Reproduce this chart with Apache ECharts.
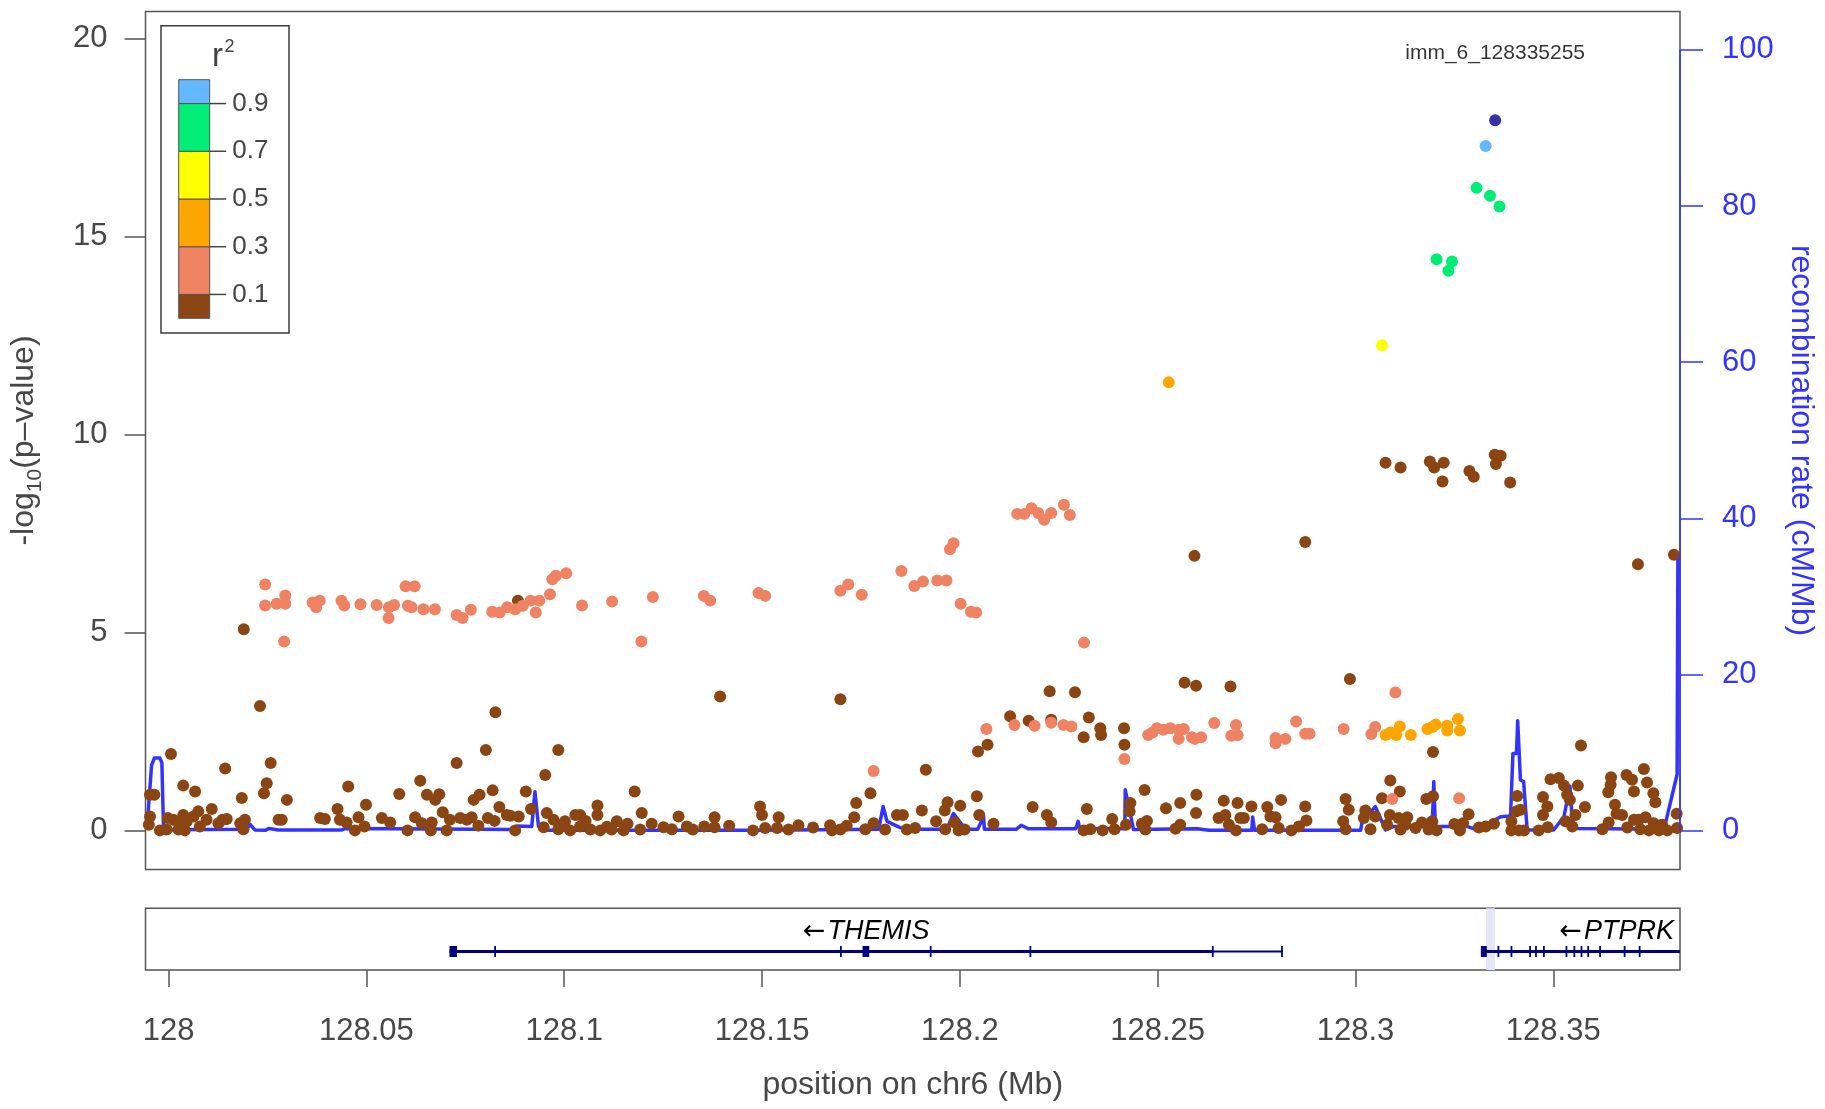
<!DOCTYPE html>
<html>
<head>
<meta charset="utf-8">
<script src="https://cdn.jsdelivr.net/npm/echarts@6/dist/echarts.min.js"></script>
<style>
html,body{margin:0;padding:0;background:#fff;}
#chart{width:1825px;height:1109px;}
</style>
</head>
<body>
<div id="chart"></div>
<script>
// ---------------- data ----------------
const leadSnpName = 'imm_6_128335255';
const leadSnp = [[128.3353, 17.94]];

// SNPs grouped by LD (r^2) with the lead SNP: [position (Mb), -log10 p]
const snpsR2lt01 = [
  [127.9953,0.91],[127.9964,0.91],[127.9953,0.36],[127.9950,0.15],[127.9978,0.01],[127.9998,0.32],[127.9995,0.03],
  [128.0006,1.94],[128.0012,0.28],[128.0025,0.03],[128.0029,0.24],[128.0037,0.40],[128.0037,1.14],[128.0041,0.01],
  [128.0046,0.24],[128.0067,0.99],[128.0063,0.36],[128.0075,0.49],[128.0079,0.11],[128.0096,0.28],[128.0109,0.55],
  [128.0126,0.19],[128.0136,0.28],[128.0147,0.30],[128.0143,1.57],[128.0185,0.83],[128.0181,0.19],[128.0193,0.28],
  [128.0189,0.04],[128.0190,5.09],[128.0231,3.15],[128.0248,1.20],[128.0258,1.71],[128.0241,0.95],[128.0278,0.28],
  [128.0286,0.28],[128.0299,0.78],[128.0383,0.32],[128.0395,0.30],[128.0427,0.55],[128.0433,0.28],[128.0450,0.21],
  [128.0454,1.12],[128.0471,0.01],[128.0480,0.34],[128.0495,0.11],[128.0499,0.66],[128.0539,0.32],[128.0560,0.21],
  [128.0583,0.93],[128.0604,0.01],[128.0623,0.34],[128.0636,1.26],[128.0640,0.19],[128.0653,0.91],[128.0665,0.21],
  [128.0663,0.01],[128.0674,0.78],[128.0684,0.92],[128.0693,0.47],[128.0703,0.01],[128.0711,0.28],[128.0728,1.71],
  [128.0737,0.32],[128.0754,0.28],[128.0766,0.34],[128.0771,0.78],[128.0786,0.91],[128.0783,0.13],[128.0802,2.04],
  [128.0807,0.32],[128.0819,1.02],[128.0826,2.99],[128.0824,0.25],[128.0836,0.60],[128.0855,0.40],[128.0864,0.38],
  [128.0876,0.01],[128.0883,5.81],[128.0885,0.36],[128.0903,0.99],[128.0916,0.55],
  [128.0952,1.41],[128.0985,2.04],[128.0956,0.45],[128.0948,0.09],[128.0973,0.28],[128.0985,0.04],[128.1002,0.24],
  [128.1015,0.01],[128.1028,0.40],[128.1040,0.40],[128.1040,0.11],[128.1066,0.03],[128.1084,0.64],[128.1084,0.40],
  [128.1091,0.01],[128.1120,0.03],[128.1133,0.24],[128.1150,0.01],[128.1178,0.99],[128.1196,0.45],[128.1192,0.03],
  [128.1221,0.18],[128.1251,0.09],[128.1272,0.04],[128.1289,0.36],[128.1310,0.11],[128.1325,0.03],[128.1354,0.11],
  [128.1380,0.34],[128.1380,0.09],[128.1394,3.39],[128.1417,0.13],[128.1477,0.01],[128.1495,0.61],[128.1500,0.40],
  [128.1508,0.07],[128.1538,0.07],[128.1542,0.34],[128.1567,0.03],[128.1592,0.14],[128.1629,0.08],[128.1672,0.14],
  [128.1677,0.01],[128.1698,3.32],[128.1698,0.03],[128.1714,0.13],[128.1733,0.34],[128.1738,0.70],[128.1774,0.95],
  [128.1782,0.19],[128.1761,0.04],[128.1811,0.03],[128.1841,0.40],[128.1856,0.40],[128.1866,0.03],
  [128.0995,0.15],[128.1054,0.25],[128.1108,0.10],[128.1160,0.18],
  [128.1887,0.07],[128.1904,0.51],[128.1914,1.54],[128.1940,0.24],[128.1962,0.51],[128.1969,0.72],[128.1963,0.04],
  [128.1987,0.21],[128.1997,0.01],[128.2001,0.63],[128.2012,0.03],[128.2043,0.87],[128.2049,0.40],[128.2046,2.00],
  [128.2070,2.17],[128.2085,0.18],[128.2127,2.89],[128.2174,2.78],[128.2184,0.60],[128.2220,0.40],[128.2231,0.21],
  [128.2227,3.52],[128.2231,2.80],[128.2291,3.50],[128.2313,2.36],[128.2321,0.55],[128.2313,0.01],[128.2326,2.86],
  [128.2330,0.04],[128.2355,2.59],[128.2357,2.42],[128.2361,0.01],[128.2385,0.30],[128.2391,0.04],[128.2415,2.59],
  [128.2416,2.17],[128.2420,0.15],[128.2431,0.70],[128.2429,0.49],[128.2460,0.18],[128.2469,0.03],[128.2467,1.03],
  [128.2473,0.25],[128.2521,0.57],[128.2545,0.05],[128.2557,0.15],[128.2557,0.70],[128.2568,3.74],[128.2597,3.66],
  [128.2598,0.91],[128.2597,0.45],[128.2654,0.32],[128.2667,0.76],[128.2671,0.40],[128.2684,3.64],[128.2680,0.15],
  [128.2698,0.01],[128.2702,0.70],[128.2709,0.32],[128.2718,0.32],[128.2737,0.61],[128.2764,0.04],[128.2777,0.60],
  [128.2785,0.36],[128.2798,0.34],[128.2806,0.07],[128.2812,0.78],[128.2838,0.01],[128.2857,0.11],[128.2873,0.61],
  [128.2876,0.26],[128.2975,0.80],[128.2983,0.53],[128.2969,0.24],[128.2975,0.04],[128.2986,3.83],[128.3021,0.32],
  [128.3025,0.51],[128.3038,0.04],[128.3050,0.36],[128.3067,0.82],[128.3088,1.27],[128.3087,0.40],[128.3080,0.15],
  [128.3112,0.99],[128.3114,0.03],[128.3109,0.32],[128.3131,0.34],[128.3126,0.15],[128.3152,0.07],[128.3168,0.21],
  [128.3179,0.80],[128.3196,0.87],[128.3196,1.99],[128.3185,0.03],[128.3194,0.24],[128.3205,0.01],[128.3250,0.17],
  [128.3264,0.01],[128.3272,0.19],[128.3286,0.42],[128.3312,0.08],[128.3329,0.11],[128.3350,0.18],[128.3394,0.24],
  [128.3394,0.01],[128.3409,0.88],[128.3407,0.49],[128.3417,0.53],[128.3413,0.01],[128.3426,0.01],[128.3463,0.01],
  [128.3474,0.85],[128.3485,0.61],[128.3474,0.40],[128.3486,0.09],[128.3493,1.30],[128.3514,1.33],[128.3527,1.14],
  [128.3535,0.91],[128.3542,0.78],[128.3562,1.14],[128.3570,2.15],[128.3531,0.24],[128.3548,0.11],[128.3556,0.40],
  [128.3580,0.60],[128.3624,0.04],[128.3640,0.21],[128.3639,0.97],[128.3645,1.16],[128.3646,1.35],[128.3656,0.66],
  [128.3660,0.43],[128.3674,0.40],[128.3685,1.41],[128.3699,1.29],[128.3704,0.99],[128.3687,0.08],[128.3704,0.28],
  [128.3720,0.04],[128.3729,1.56],[128.3737,1.22],[128.3753,0.95],[128.3758,0.72],[128.3733,0.34],[128.3742,0.01],
  [128.3754,0.19],[128.3767,0.01],[128.3775,0.15],[128.3788,0.01],[128.3812,0.43],[128.3813,0.07],[128.3716,0.28],
  [128.3076,9.29],[128.3114,9.17],[128.3188,9.32],[128.3199,9.17],[128.3223,9.29],[128.3220,8.82],[128.3288,9.08],
  [128.3299,8.94],[128.3352,9.49],[128.3367,9.47],[128.3355,9.26],[128.3391,8.79],[128.2873,7.29],[128.2593,6.94],
  [128.3805,6.97],[128.3714,6.73]
];

const snpsR2_01_03 = [
  [128.0244,6.22],[128.0244,5.69],[128.0273,5.73],[128.0295,5.94],[128.0295,5.73],[128.0292,4.78],[128.0364,5.76],
  [128.0373,5.64],[128.0382,5.81],[128.0437,5.81],[128.0444,5.69],[128.0485,5.72],[128.0526,5.70],[128.0557,5.64],
  [128.0556,5.37],[128.0570,5.70],[128.0599,6.17],[128.0622,6.17],[128.0605,5.68],[128.0614,5.64],[128.0644,5.59],
  [128.0673,5.59],[128.0728,5.45],[128.0743,5.37],[128.0764,5.58],[128.0818,5.53],[128.0837,5.51],[128.0856,5.64],
  [128.0876,5.59],[128.0895,5.68],[128.0915,5.81],[128.0928,5.51],[128.0937,5.81],[128.0964,5.97],[128.0970,6.35],
  [128.0979,6.44],[128.1005,6.50],[128.1045,5.69],[128.1121,5.79],[128.1195,4.78],[128.1224,5.90],[128.1353,5.93],
  [128.1369,5.81],[128.1491,6.00],[128.1508,5.93],[128.1698,6.06],[128.1718,6.22],[128.1752,5.96],[128.1852,6.56],
  [128.1885,6.18],[128.1907,6.29],[128.1943,6.32],[128.1966,6.32],[128.2002,5.73],[128.2028,5.53],[128.2041,5.51],
  [128.1975,7.11],[128.1984,7.26],[128.2145,8.00],[128.2163,8.00],[128.2181,8.14],[128.2198,8.02],[128.2213,7.85],
  [128.2231,8.02],[128.2263,8.23],[128.2278,7.97],[128.2314,4.75],[128.1782,1.51],
  [128.2067,2.57],[128.2138,2.67],[128.2189,2.65],[128.2231,2.73],[128.2262,2.67],[128.2282,2.63],[128.2416,1.81],
  [128.2476,2.42],[128.2487,2.48],[128.2498,2.59],[128.2515,2.55],[128.2532,2.59],[128.2553,2.55],[128.2553,2.32],
  [128.2566,2.57],[128.2587,2.36],[128.2594,2.32],[128.2610,2.36],[128.2643,2.72],[128.2686,2.40],[128.2698,2.67],
  [128.2702,2.41],[128.2798,2.34],[128.2798,2.21],[128.2823,2.32],[128.2850,2.76],[128.2873,2.45],
  [128.2884,2.45],[128.2970,2.57],[128.3040,2.44],[128.3050,2.62],[128.3101,3.49],[128.3093,0.80],[128.3262,0.82]
];

const snpsR2_03_05 = [
  [128.3076,2.42],[128.3089,2.48],[128.3103,2.42],[128.3112,2.63],[128.3140,2.42],[128.3182,2.57],[128.3194,2.62],
  [128.3203,2.68],[128.3232,2.65],[128.3232,2.53],[128.3259,2.82],[128.3264,2.53],[128.2528,11.32]
];
const snpsR2_05_07 = [[128.3067,12.26]];
const snpsR2_07_09 = [[128.3306,16.23],[128.3340,16.03],[128.3364,15.76],[128.3205,14.43],[128.3244,14.37],[128.3235,14.14]];
const snpsR2_09_10 = [[128.3329,17.29]];

// recombination rate (cM/Mb) along the region
const recombRate = [
  [127.9944,0.4],[127.9947,1.5],[127.9957,8.4],[127.9964,9.3],[127.9978,9.3],[127.9983,8.7],[127.9987,0.55],[127.9991,0.13],
  [128.0100,0.15],[128.0197,0.2],[128.0206,0.8],[128.0218,0.1],[128.0244,0.05],[128.0254,0.3],[128.0277,0.1],[128.0438,0.1],
  [128.0446,0.3],[128.0876,0.15],[128.0880,0.6],[128.0918,0.55],[128.0926,5.0],[128.0935,0.55],[128.0948,0.05],[128.1500,0.05],
  [128.1795,0.2],[128.1806,3.1],[128.1816,1.2],[128.1849,0.4],[128.1880,0.2],[128.1967,0.2],[128.1984,2.2],[128.2014,0.2],
  [128.2045,0.2],[128.2060,1.8],[128.2062,0.2],[128.2143,0.2],[128.2155,0.7],[128.2174,0.25],[128.2293,0.25],[128.2299,1.2],
  [128.2303,0.25],[128.2417,0.25],[128.2418,5.25],[128.2427,3.1],[128.2439,0.15],[128.2600,0.25],[128.2630,0.05],[128.2738,0.05],
  [128.2740,1.75],[128.2745,0.05],[128.3013,0.05],[128.3017,1.2],[128.3050,3.1],[128.3076,0.1],[128.3097,0.55],[128.3194,0.55],
  [128.3198,6.3],[128.3202,0.55],[128.3282,0.55],[128.3307,0.1],[128.3367,1.8],[128.3392,1.9],[128.3398,9.9],[128.3407,9.9],
  [128.3410,14.1],[128.3417,6.5],[128.3425,6.3],[128.3434,0.1],[128.3501,0.1],[128.3527,1.8],[128.3542,5.7],[128.3548,1.3],
  [128.3560,0.3],[128.3780,0.2],[128.3813,7.2],[128.3815,35.2]
];

// genes in the region
const geneNames = ['THEMIS', 'PTPRK'];
const geneStarts = [128.0710, 128.3317];
const geneEnds = [128.2816, 128.9000];
const geneThickEnds = [128.2639, 128.9000];
const geneExons = [
  [[128.0710,128.0729],[128.0823,128.0827],[128.1697,128.1701],[128.1754,128.1771],[128.1924,128.1928],
   [128.2176,128.2180],[128.2637,128.2641],[128.2812,128.2816]],
  [[128.3317,128.3332],[128.3359,128.3363],[128.3392,128.3396],[128.3439,128.3443],[128.3454,128.3458],
   [128.3474,128.3478],[128.3531,128.3535],[128.3551,128.3555],[128.3569,128.3573],[128.3586,128.3590],
   [128.3616,128.3620],[128.3678,128.3682],[128.3716,128.3720]]
];
const leadBandWidth = 0.0023;

// axes
const xRange = [127.99416, 128.38203];
const xTicks = [128, 128.05, 128.1, 128.15, 128.2, 128.25, 128.3, 128.35];
const pRange = [-0.975, 20.68];
const pTicks = [0, 5, 10, 15, 20];
const recombRange = [-4.95, 104.9];
const recombTicks = [0, 20, 40, 60, 80, 100];

// LD legend
const r2Breaks = [0, 0.1, 0.3, 0.5, 0.7, 0.9, 1.0];
const r2Colors = ['#8B4513', '#EE8262', '#FFA500', '#FFFF00', '#00EE76', '#63B8FF'];
const r2TickLabels = [0.1, 0.3, 0.5, 0.7, 0.9];
const leadColor = '#00008B';

// ---------------- styling ----------------
const FONT = '"Liberation Sans", Arial, Helvetica, sans-serif';
const TXT = '#474747';
const RECOMB = '#3333FF';
const GENE = '#000080';
const GENE_ROW = 0.3;
const GENE_LABEL_ROW = 0.62;
const DOT = 12;

const chart = echarts.init(document.getElementById('chart'), null, { renderer: 'canvas' });

function scatterSeries(name, data, color) {
  return {
    name, type: 'scatter', xAxisIndex: 0, yAxisIndex: 0, data,
    symbol: 'circle', symbolSize: DOT, silent: true, z: 3,
    itemStyle: { color, opacity: 1 }
  };
}

function renderBand(params, api) {
  const cs = params.coordSys;
  const lead = leadSnp[0][0];
  const x0 = api.coord([lead - leadBandWidth, 0])[0];
  const x1 = api.coord([lead, 0])[0];
  return { type: 'rect', shape: { x: x0, y: cs.y, width: x1 - x0, height: cs.height },
           style: { fill: '#E6E6FB' } };
}

function renderGene(params, api) {
  const i = params.dataIndex;
  const cs = params.coordSys;
  const left = cs.x, right = cs.x + cs.width;
  const cx = v => Math.max(left, Math.min(right, api.coord([v, GENE_ROW])[0]));
  const rowY = api.coord([geneStarts[i], GENE_ROW])[1];
  const xs = cx(geneStarts[i]), xe = cx(geneEnds[i]), xt = cx(geneThickEnds[i]);
  const children = [];
  if (xe > xt) children.push({ type: 'rect', shape: { x: xt, y: rowY - 0.9, width: xe - xt, height: 1.8 }, style: { fill: GENE } });
  children.push({ type: 'rect', shape: { x: xs, y: rowY - 1.6, width: xt - xs, height: 3.2 }, style: { fill: GENE } });
  geneExons[i].forEach(([a, b]) => {
    const xa = cx(a), xb = cx(b);
    if (xb <= left || xa >= right) return;
    children.push({ type: 'rect', shape: { x: xa, y: rowY - 5.5, width: Math.max(xb - xa, 1.8), height: 11 }, style: { fill: GENE } });
  });
  const labelY = api.coord([geneStarts[i], GENE_LABEL_ROW])[1];
  const overflow = geneEnds[i] > xRange[1];
  children.push({
    type: 'text', x: overflow ? right - 6 : (xs + xe) / 2, y: labelY,
    style: {
      text: '{arr|\u2190}{nm|' + geneNames[i] + '}',
      align: overflow ? 'right' : 'center', verticalAlign: 'middle',
      rich: {
        arr: { fontFamily: '"DejaVu Sans", sans-serif', fontSize: 27, fill: '#000', padding: [0, 2, 0, 0] },
        nm: { fontFamily: FONT, fontStyle: 'italic', fontSize: 27, fill: '#000' }
      }
    }
  });
  return { type: 'group', children };
}

// LD legend drawn as graphic elements
const LEG = { x: 161, y: 25.7, w: 128, h: 307.3, barX: 178.7, barY: 79.7, barW: 31, barH: 238.6 };
const legendEls = [
  { type: 'rect', shape: { x: LEG.x, y: LEG.y, width: LEG.w, height: LEG.h }, style: { fill: '#fff', stroke: '#3c3c3c', lineWidth: 1.5 } }
];
r2Colors.forEach((c, k) => {
  const lo = r2Breaks[k], hi = r2Breaks[k + 1];
  legendEls.push({ type: 'rect', shape: { x: LEG.barX, y: LEG.barY + (1 - hi) * LEG.barH, width: LEG.barW, height: (hi - lo) * LEG.barH },
                   style: { fill: c, stroke: '#555', lineWidth: 1 } });
});
r2TickLabels.forEach(v => {
  const y = LEG.barY + (1 - v) * LEG.barH;
  legendEls.push({ type: 'line', shape: { x1: LEG.barX + LEG.barW, y1: y, x2: LEG.barX + LEG.barW + 16.5, y2: y }, style: { stroke: '#444', lineWidth: 1.5 } });
  legendEls.push({ type: 'text', x: LEG.barX + LEG.barW + 22.5, y: y,
                   style: { text: v.toFixed(1), fill: '#444', font: '26px ' + FONT, align: 'left', verticalAlign: 'middle' } });
});
legendEls.push({ type: 'text', x: 212, y: 57, style: { text: 'r', fill: '#444', font: '33px ' + FONT, align: 'left', verticalAlign: 'middle' } });
legendEls.push({ type: 'text', x: 224.5, y: 47, style: { text: '2', fill: '#444', font: '18px ' + FONT, align: 'left', verticalAlign: 'middle' } });

const option = {
  animation: false,
  backgroundColor: '#ffffff',
  grid: [
    { left: 145.5, top: 11.6, width: 1534.5, height: 857.8, show: true, borderColor: '#555', borderWidth: 1.5, backgroundColor: 'transparent' },
    { left: 145.5, top: 908.3, width: 1534.5, height: 61.7, show: true, borderColor: '#555', borderWidth: 1.5, backgroundColor: 'transparent' }
  ],
  xAxis: [
    { type: 'value', gridIndex: 0, min: xRange[0], max: xRange[1], show: false },
    {
      type: 'value', gridIndex: 1, min: xRange[0], max: xRange[1], position: 'bottom',
      axisLine: { show: false }, splitLine: { show: false },
      axisTick: { show: true, length: 17, customValues: xTicks, lineStyle: { color: '#555', width: 1.5 } },
      axisLabel: { show: true, customValues: xTicks, margin: 46, fontSize: 31, color: TXT, fontFamily: FONT,
                   formatter: v => String(+(+v).toFixed(2)) },
      name: 'position on chr6 (Mb)', nameLocation: 'middle', nameGap: 99,
      nameTextStyle: { fontSize: 32, color: TXT, fontFamily: FONT }
    }
  ],
  yAxis: [
    {
      type: 'value', gridIndex: 0, min: pRange[0], max: pRange[1], position: 'left',
      axisLine: { show: false }, splitLine: { show: false },
      axisTick: { show: true, length: 21, customValues: pTicks, lineStyle: { color: '#555', width: 1.5 } },
      axisLabel: { show: true, customValues: pTicks, margin: 38, fontSize: 31, color: TXT, fontFamily: FONT },
      name: '{a|-log}{b|10}{a|(p\u2013value)}', nameLocation: 'middle', nameGap: 100, nameRotate: 90,
      nameTextStyle: {
        color: TXT, fontFamily: FONT, fontSize: 32,
        rich: {
          a: { fontSize: 32, color: TXT, fontFamily: FONT, lineHeight: 42 },
          b: { fontSize: 21, color: TXT, fontFamily: FONT, lineHeight: 16, verticalAlign: 'bottom' }
        }
      }
    },
    {
      type: 'value', gridIndex: 0, min: recombRange[0], max: recombRange[1], position: 'right',
      axisLine: { show: false }, splitLine: { show: false },
      axisTick: { show: true, length: 23, customValues: recombTicks, lineStyle: { color: RECOMB, width: 1.5 } },
      axisLabel: { show: true, customValues: recombTicks, margin: 42, fontSize: 31, color: RECOMB, fontFamily: FONT },
      name: 'recombination rate (cM/Mb)', nameLocation: 'middle', nameGap: 101, nameRotate: -90,
      nameTextStyle: { fontSize: 32, color: RECOMB, fontFamily: FONT }
    },
    { type: 'value', gridIndex: 1, min: 0, max: 1, show: false }
  ],
  graphic: { elements: legendEls },
  series: [
    {
      name: 'recombination', type: 'line', xAxisIndex: 0, yAxisIndex: 1, data: recombRate,
      showSymbol: false, silent: true, z: 1, clip: true,
      lineStyle: { color: RECOMB, width: 3.5, join: 'round' }
    },
    {
      name: 'recombination axis', type: 'line', xAxisIndex: 0, yAxisIndex: 1,
      data: [[xRange[1], recombTicks[0]], [xRange[1], recombTicks[recombTicks.length - 1]]],
      showSymbol: false, silent: true, clip: false, z: 5,
      lineStyle: { color: RECOMB, width: 1.5 }
    },
    scatterSeries('r2 < 0.1', snpsR2lt01, r2Colors[0]),
    scatterSeries('r2 0.1-0.3', snpsR2_01_03, r2Colors[1]),
    scatterSeries('r2 0.3-0.5', snpsR2_03_05, r2Colors[2]),
    scatterSeries('r2 0.5-0.7', snpsR2_05_07, r2Colors[3]),
    scatterSeries('r2 0.7-0.9', snpsR2_07_09, r2Colors[4]),
    scatterSeries('r2 0.9-1', snpsR2_09_10, r2Colors[5]),
    {
      name: leadSnpName, type: 'scatter', xAxisIndex: 0, yAxisIndex: 0, data: leadSnp,
      symbol: 'circle', symbolSize: DOT, silent: true, z: 4,
      itemStyle: { color: leadColor },
      label: { show: true, position: 'top', distance: 50, formatter: leadSnpName,
               fontSize: 21, color: '#000', fontFamily: FONT }
    },
    {
      name: 'lead band', type: 'custom', xAxisIndex: 1, yAxisIndex: 2, silent: true, z: 1,
      data: [[leadSnp[0][0], 0.5]], encode: { x: 0, y: 1 }, renderItem: renderBand
    },
    {
      name: 'genes', type: 'custom', xAxisIndex: 1, yAxisIndex: 2, silent: true, z: 2,
      data: geneNames.map((n, i) => [geneStarts[i], GENE_ROW]), encode: { x: 0, y: 1 }, renderItem: renderGene
    }
  ]
};
chart.setOption(option);
</script>
</body>
</html>
